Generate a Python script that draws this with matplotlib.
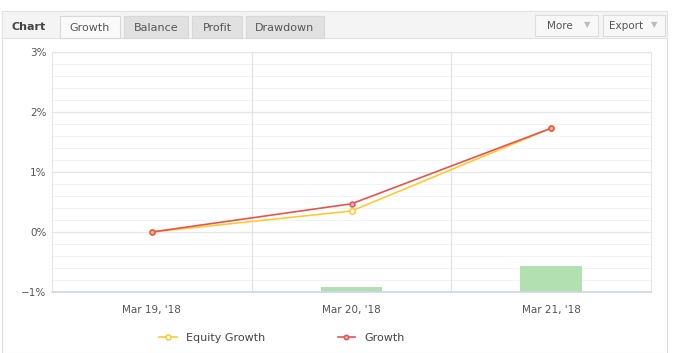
import matplotlib.pyplot as plt
from matplotlib.patches import Rectangle
from matplotlib.ticker import MultipleLocator, FuncFormatter

# data
dates = ["Mar 19, '18", "Mar 20, '18", "Mar 21, '18"]
equity_growth = [0.0, 0.35, 1.73]
growth = [0.0, 0.47, 1.73]
bar_values = [0.0, 0.08, 0.43]   # small bars sitting on the -1% baseline
y_ticks = [-1, 0, 1, 2, 3]

W, H = 680, 353
fig = plt.figure(figsize=(W / 100, H / 100), dpi=100)
fig.patch.set_facecolor("white")


def box(x0, y0, x1, y1, fc, ec="none", lw=0.8, z=0):
    # pixel coords from top-left
    r = Rectangle((x0 / W, 1 - y1 / H), (x1 - x0) / W, (y1 - y0) / H,
                  transform=fig.transFigure, facecolor=fc, edgecolor=ec,
                  linewidth=lw, zorder=z)
    fig.patches.append(r)


def label(x, y, s, **kw):
    fig.text(x / W, 1 - y / H, s, va="center", **kw)


# outer panel + header strip
box(2, 11, 667, 353, "white", "#dddddd", z=0)
box(2, 11, 667, 38, "#f4f4f4", "#e2e2e2", z=1)
label(12, 27, "Chart", fontsize=8, fontweight="bold", color="#444444")

tabs = [("Growth", 60, 120, "#fafafa"), ("Balance", 124, 188, "#e1e1e1"),
        ("Profit", 192, 242, "#e1e1e1"), ("Drawdown", 246, 324, "#e1e1e1")]
for name, x0, x1, fc in tabs:
    box(x0, 16, x1, 38, fc, "#d8d8d8", z=2)
    label((x0 + x1) / 2, 28, name, fontsize=8, color="#555555", ha="center")

for name, x0, x1 in [("More", 535, 598), ("Export", 603, 665)]:
    box(x0, 15, x1, 36, "#f8f8f8", "#dcdcdc", z=2)
    label(x0 + 25 if name == "More" else x0 + 23, 26, name, fontsize=7.5,
          color="#555555", ha="center")
    label(x1 - 11, 25, "\u25bc", fontsize=6, color="#bbbbbb", ha="center")

# plotting area
ax = fig.add_axes([52 / W, 1 - 292 / H, (651 - 52) / W, (292 - 52) / H])
ax.set_zorder(3)
ax.set_facecolor("white")
x = list(range(len(dates)))

ax.bar(x, bar_values, bottom=-1, width=0.31, color="#b2e0b0", zorder=2)
ax.plot(x, equity_growth, color="#ffc933", lw=1.2, marker="o", ms=4,
        mfc="white", mec="#ffc933", mew=1.1, label="Equity Growth", zorder=4)
ax.plot(x, growth, color="#e8534f", lw=1.2, marker="o", ms=3.5,
        mfc="#f5b0ae", mec="#e8534f", mew=1.1, label="Growth", zorder=5)

ax.set_xlim(-0.5, 2.5)
ax.set_ylim(-1, 3)
ax.set_xticks(x)
ax.set_xticklabels(dates)
ax.set_yticks(y_ticks)
ax.yaxis.set_major_formatter(FuncFormatter(lambda v, p: f"{v:.0f}%".replace("-", "\u2212")))
ax.yaxis.set_minor_locator(MultipleLocator(0.2))
ax.grid(True, which="major", axis="y", color="#e6e6e6", lw=0.9)
ax.grid(True, which="minor", axis="y", color="#f3f3f3", lw=0.7)
for xv in [0.5, 1.5]:
    ax.axvline(xv, color="#e3e3e3", lw=0.9, zorder=1)
ax.set_axisbelow(True)
ax.tick_params(which="both", length=0)
ax.tick_params(axis="x", pad=9, labelsize=7.5, labelcolor="#555555")
ax.tick_params(axis="y", pad=4, labelsize=7.5, labelcolor="#555555")
for s in ["top", "right"]:
    ax.spines[s].set_color("#e6e6e6")
ax.spines["left"].set_color("#e6e6e6")
ax.spines["bottom"].set_color("#ccd6eb")
ax.spines["bottom"].set_linewidth(1.2)

leg = ax.legend(loc="center", bbox_to_anchor=(282 / W, 1 - 338 / H),
                bbox_transform=fig.transFigure, ncol=2, frameon=False,
                fontsize=8, handlelength=1.6, columnspacing=6.5,
                labelcolor="#444444", markerscale=0.9)

fig.savefig("out.png", dpi=100)
